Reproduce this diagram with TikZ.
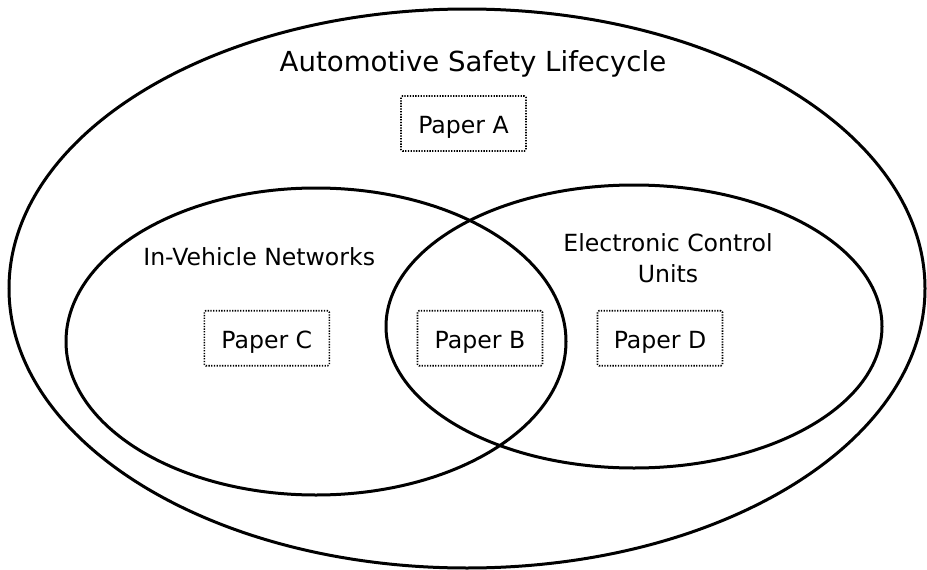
\documentclass[tikz,border=0pt]{standalone}
\usepackage{fontspec}
\setmainfont{DejaVu Sans}
\usetikzlibrary{shapes.geometric}
\begin{document}
\begin{tikzpicture}[x=1pt,y=-1pt,
  setring/.style={draw=black, line width=3pt, ellipse, inner sep=0pt},
  paperbox/.style={draw=black, line width=1.6pt, dash pattern=on 1.3pt off 1.4pt,
    rounded corners=1.5pt, minimum width=125pt, minimum height=55pt, inner sep=0pt,
    text height=19.6pt, text depth=0pt, font=\fontsize{23.6}{28}\selectfont},
  lbl/.style={anchor=base, inner sep=0pt, font=\fontsize{23.6}{31}\selectfont},
  ttl/.style={anchor=base, inner sep=0pt, font=\fontsize{27.6}{32}\selectfont}]
\useasboundingbox (0,0) rectangle (927,570);
\node[setring, minimum width=916pt, minimum height=559pt] (outer) at (467,288.5) {};
\node[setring, minimum width=500pt, minimum height=307pt] (ivn) at (316,341.5) {};
\node[setring, minimum width=496pt, minimum height=283pt] (ecu) at (634,326.5) {};
\node[ttl] (tA) at (473,71) {Automotive Safety Lifecycle};
\node[lbl] (tI) at (259.2,265.7) {In-Vehicle Networks};
\node[lbl, align=center] (tE) at (668,282.7) {Electronic Control\\Units};
\node[paperbox] (pA) at (463.5,123.5) {Paper A};
\node[paperbox] (pC) at (266.8,338.2) {Paper C};
\node[paperbox] (pB) at (480,338.2) {Paper B};
\node[paperbox] (pD) at (660,338.2) {Paper D};
\end{tikzpicture}
\end{document}
